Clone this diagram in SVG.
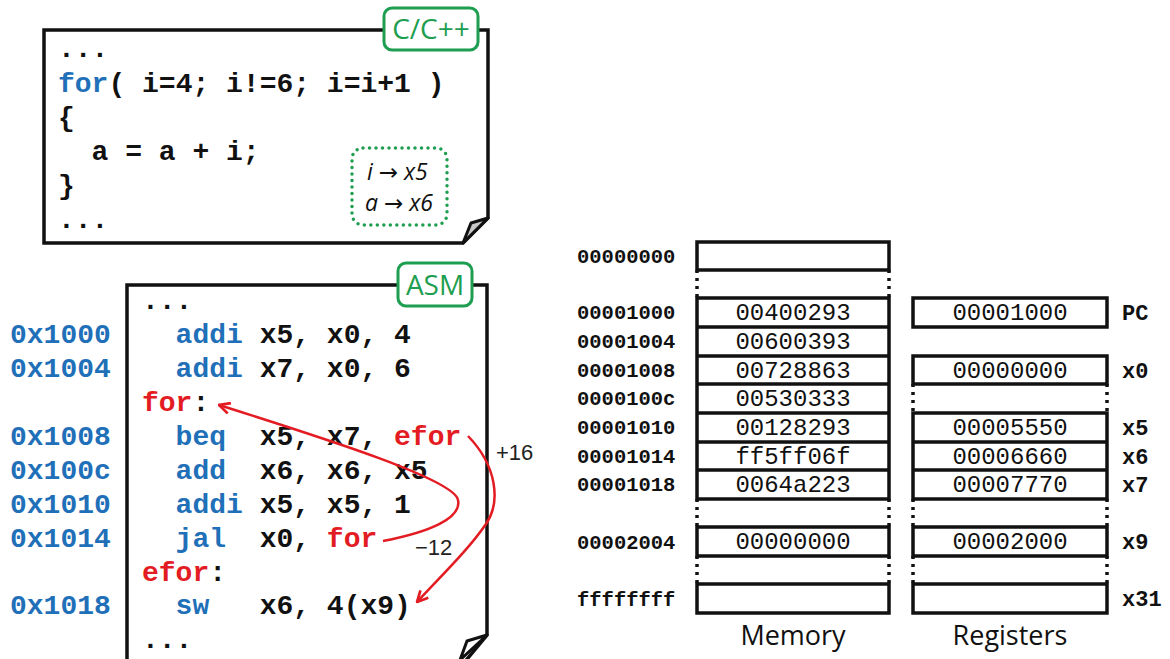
<svg xmlns="http://www.w3.org/2000/svg" width="1170" height="659" viewBox="0 0 1170 659">
<defs>
<style>
.code{font-family:"Liberation Mono","Courier New",monospace;font-weight:bold;font-size:28px;fill:#111;white-space:pre}
.kw{fill:#1f70b8}
.lb{fill:#e31c23}
.addr{font-family:"Liberation Mono",monospace;font-weight:bold;font-size:28px;fill:#1f70b8}
.maddr{font-family:"Liberation Mono",monospace;font-weight:bold;font-size:20.5px;fill:#111}
.val{font-family:"Liberation Mono",monospace;font-size:24px;fill:#111;text-anchor:middle}
.rname{font-family:"Liberation Mono",monospace;font-weight:bold;font-size:22px;fill:#111}
.cap{font-family:"Open Sans","Noto Sans",sans-serif;font-size:27px;fill:#111;text-anchor:middle}
.tag{fill:#fff;stroke:#1e9e50;stroke-width:3}
.tagt{font-family:"Open Sans","Noto Sans",sans-serif;font-size:28px;fill:#1e9e50;text-anchor:middle}
.box{fill:#fff;stroke:#111;stroke-width:3.5}
.cell{fill:none;stroke:#111;stroke-width:3.5}
.dash{stroke:#111;stroke-width:3.5;stroke-dasharray:3 5}
.arr{fill:none;stroke:#e31c23;stroke-width:2.5}
.off{font-family:"Liberation Sans",Arial,sans-serif;font-size:22px;fill:#222}
.map{font-family:"Open Sans","Noto Sans","DejaVu Sans",sans-serif;font-style:italic;font-size:23px;fill:#111}
</style>
<marker id="ah" viewBox="0 0 12 12" refX="11" refY="6" markerWidth="13" markerHeight="13" markerUnits="userSpaceOnUse" orient="auto">
<path d="M1,1 L11,6 L1,11" fill="none" stroke="#e31c23" stroke-width="2.5"/>
</marker>
</defs>
<rect width="1170" height="659" fill="#fff"/>

<g id="c-code">
<path class="box" d="M44,243 V30 H488 V218 L463,243 Z"/>
<polygon points="488,218 471,223 463,243" fill="#c8c8c8" stroke="#111" stroke-width="3" stroke-linejoin="round"/>
<rect class="tag" x="384" y="8" width="94" height="42" rx="8"/>
<text class="tagt" x="431" y="39">C/C++</text>
<text class="code" x="58" y="57">...</text>
<text class="code" x="58" y="92"><tspan class="kw">for</tspan>( i=4; i!=6; i=i+1 )</text>
<text class="code" x="58" y="126">{</text>
<text class="code" x="58" y="160">  a = a + i;</text>
<text class="code" x="58" y="194">}</text>
<text class="code" x="58" y="228">...</text>
<g id="var-map">
<rect x="352" y="148" width="95" height="77" rx="11" fill="none" stroke="#1e9e50" stroke-width="3.5" stroke-linecap="round" stroke-dasharray="0 6.5"/>
<text class="map" x="367" y="180">i → x5</text>
<text class="map" x="365" y="211">a → x6</text>
</g>
</g>

<g id="asm-code">
<path class="box" d="M127,670 V285 H487 V635 L458,670"/>
<polygon points="487,635 467,641 460,660" fill="#fff" stroke="#111" stroke-width="3" stroke-linejoin="round"/>
<rect class="tag" x="398" y="263" width="74" height="43" rx="8"/>
<text class="tagt" x="435" y="295">ASM</text>
<text class="code" x="142" y="309">...</text>
<text class="code" x="142" y="343">  <tspan class="kw">addi</tspan> x5, x0, 4</text>
<text class="code" x="142" y="377">  <tspan class="kw">addi</tspan> x7, x0, 6</text>
<text class="code" x="142" y="411"><tspan class="lb">for</tspan>:</text>
<text class="code" x="142" y="445">  <tspan class="kw">beq</tspan>  x5, x7, <tspan class="lb">efor</tspan></text>
<text class="code" x="142" y="479">  <tspan class="kw">add</tspan>  x6, x6, x5</text>
<text class="code" x="142" y="513">  <tspan class="kw">addi</tspan> x5, x5, 1</text>
<text class="code" x="142" y="547">  <tspan class="kw">jal</tspan>  x0, <tspan class="lb">for</tspan></text>
<text class="code" x="142" y="581"><tspan class="lb">efor</tspan>:</text>
<text class="code" x="142" y="614">  <tspan class="kw">sw</tspan>   x6, 4(x9)</text>
<text class="code" x="142" y="648">...</text>
</g>

<g id="addresses">
<text class="addr" x="10" y="343">0x1000</text>
<text class="addr" x="10" y="377">0x1004</text>
<text class="addr" x="10" y="445">0x1008</text>
<text class="addr" x="10" y="479">0x100c</text>
<text class="addr" x="10" y="513">0x1010</text>
<text class="addr" x="10" y="547">0x1014</text>
<text class="addr" x="10" y="614">0x1018</text>
</g>

<g id="connectors">
<path class="arr" d="M383,541 C430,532 462,518 458,500 C455,480 330,440 219,405" marker-end="url(#ah)"/>
<path class="arr" d="M468,436 C497,466 501,502 486,524 C468,550 445,572 417,602" marker-end="url(#ah)"/>
<text class="off" x="496" y="460">+16</text>
<text class="off" x="415" y="555">−12</text>
</g>

<g id="memory">
<rect class="cell" x="697" y="242" width="192" height="28"/>
<line class="dash" x1="697" y1="270" x2="697" y2="298"/>
<line class="dash" x1="889" y1="270" x2="889" y2="298"/>
<rect class="cell" x="697" y="298" width="192" height="201"/>
<line class="cell" x1="697" y1="327" x2="889" y2="327"/>
<line class="cell" x1="697" y1="356" x2="889" y2="356"/>
<line class="cell" x1="697" y1="384" x2="889" y2="384"/>
<line class="cell" x1="697" y1="413" x2="889" y2="413"/>
<line class="cell" x1="697" y1="442" x2="889" y2="442"/>
<line class="cell" x1="697" y1="470" x2="889" y2="470"/>
<line class="dash" x1="697" y1="499" x2="697" y2="527"/>
<line class="dash" x1="889" y1="499" x2="889" y2="527"/>
<rect class="cell" x="697" y="527" width="192" height="29"/>
<line class="dash" x1="697" y1="556" x2="697" y2="584"/>
<line class="dash" x1="889" y1="556" x2="889" y2="584"/>
<rect class="cell" x="697" y="584" width="192" height="29"/>
<text class="maddr" x="577" y="263">00000000</text>
<text class="maddr" x="577" y="319">00001000</text>
<text class="maddr" x="577" y="348">00001004</text>
<text class="maddr" x="577" y="377">00001008</text>
<text class="maddr" x="577" y="405">0000100c</text>
<text class="maddr" x="577" y="434">00001010</text>
<text class="maddr" x="577" y="463">00001014</text>
<text class="maddr" x="577" y="491">00001018</text>
<text class="maddr" x="577" y="549">00002004</text>
<text class="maddr" x="577" y="606">ffffffff</text>
<text class="val" x="793" y="320">00400293</text>
<text class="val" x="793" y="349">00600393</text>
<text class="val" x="793" y="378">00728863</text>
<text class="val" x="793" y="406">00530333</text>
<text class="val" x="793" y="435">00128293</text>
<text class="val" x="793" y="464">ff5ff06f</text>
<text class="val" x="793" y="492">0064a223</text>
<text class="val" x="793" y="549">00000000</text>
<text class="cap" x="793" y="645">Memory</text>
</g>

<g id="registers">
<rect class="cell" x="913" y="298" width="194" height="29"/>
<rect class="cell" x="913" y="356" width="194" height="28"/>
<line class="dash" x1="913" y1="384" x2="913" y2="413"/>
<line class="dash" x1="1107" y1="384" x2="1107" y2="413"/>
<rect class="cell" x="913" y="413" width="194" height="86"/>
<line class="cell" x1="913" y1="442" x2="1107" y2="442"/>
<line class="cell" x1="913" y1="470" x2="1107" y2="470"/>
<line class="dash" x1="913" y1="499" x2="913" y2="527"/>
<line class="dash" x1="1107" y1="499" x2="1107" y2="527"/>
<rect class="cell" x="913" y="527" width="194" height="29"/>
<line class="dash" x1="913" y1="556" x2="913" y2="584"/>
<line class="dash" x1="1107" y1="556" x2="1107" y2="584"/>
<rect class="cell" x="913" y="584" width="194" height="29"/>
<text class="val" x="1010" y="320">00001000</text>
<text class="val" x="1010" y="378">00000000</text>
<text class="val" x="1010" y="435">00005550</text>
<text class="val" x="1010" y="464">00006660</text>
<text class="val" x="1010" y="492">00007770</text>
<text class="val" x="1010" y="549">00002000</text>
<text class="rname" x="1122" y="320">PC</text>
<text class="rname" x="1122" y="378">x0</text>
<text class="rname" x="1122" y="435">x5</text>
<text class="rname" x="1122" y="464">x6</text>
<text class="rname" x="1122" y="492">x7</text>
<text class="rname" x="1122" y="549">x9</text>
<text class="rname" x="1122" y="606">x31</text>
<text class="cap" x="1010" y="645">Registers</text>
</g>
</svg>
